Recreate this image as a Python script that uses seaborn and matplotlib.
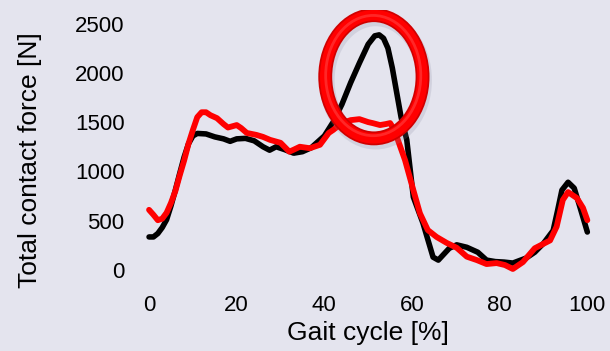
#!/usr/bin/env python
# -*- coding: UTF-8 -*-

# Import Modules
import pandas as pd
import seaborn as sns
import matplotlib
matplotlib.use("Agg")
import matplotlib.pyplot as plt
from matplotlib.patches import Ellipse


# Data
black_x = [0, 1, 2, 3, 4, 5, 6, 7, 8, 9, 10, 11, 13, 15, 17, 18.5, 20, 22, 24,
           26, 27.5, 29, 31, 33, 35, 37, 38.5, 40, 42, 44, 46, 48, 50, 51.5,
           52.5, 53.5, 54.5, 55.5, 56.5, 57.5, 58.8, 60.3, 62.5, 64.8, 66,
           68.5, 70.2, 72.5, 75, 77, 79, 81, 83, 86, 88, 90, 92.2, 93.2, 94.2,
           95.6, 97, 98.3, 100]
black_y = [335, 335, 370, 430, 510, 650, 810, 980, 1145, 1280, 1360, 1385,
           1380, 1350, 1330, 1305, 1330, 1335, 1310, 1250, 1215, 1250, 1220,
           1185, 1200, 1240, 1300, 1360, 1500, 1680, 1900, 2100, 2290, 2375,
           2385, 2350, 2250, 2050, 1800, 1550, 1320, 740, 475, 130, 100, 220,
           255, 230, 180, 100, 85, 80, 70, 120, 180, 270, 400, 600, 810, 890,
           830, 640, 385]

red_x = [0, 1, 2, 3, 4, 5, 6, 7, 8, 9, 10, 11, 12, 13, 14, 15.5, 17, 18, 20,
         21, 22.3, 24.5, 26, 27.6, 30, 32, 33, 34.4, 36.7, 39, 41, 42, 44, 46,
         48, 50, 51, 52.7, 54, 55, 56, 57, 58.4, 60.3, 61.8, 63.6, 65.6,
         67.9, 70.2, 72.5, 74.8, 77, 79.3, 81.2, 83, 85.3, 88, 91.5, 93,
         94.4, 95.6, 97.6, 99, 100]
red_y = [610, 560, 505, 520, 580, 680, 800, 960, 1110, 1280, 1420, 1550, 1600,
         1600, 1570, 1540, 1480, 1445, 1470, 1440, 1390, 1370, 1350, 1320,
         1290, 1200, 1220, 1250, 1235, 1270, 1390, 1420, 1490, 1520, 1530,
         1500, 1490, 1470, 1480, 1490, 1420, 1290, 1115, 810, 575, 405, 335,
         275, 225, 135, 100, 60, 70, 50, 10, 80, 220, 300, 440, 710, 790, 730,
         630, 505]

x_ticks = [0, 20, 40, 60, 80, 100]
y_ticks = [0, 500, 1000, 1500, 2000, 2500]

# Highlighted region (ellipse) around the peak
ring_center = (51.3, 1960)
ring_size = (22.2, 1250)


BG = "#e4e4ee"

sns.set_style("white", {"axes.facecolor": BG, "figure.facecolor": BG,
                        "text.color": "black", "axes.labelcolor": "black",
                        "xtick.color": "black", "ytick.color": "black"})
plt.rcParams["font.family"] = ["Liberation Sans", "DejaVu Sans"]

df_black = pd.DataFrame({"x": black_x, "y": black_y})
df_red = pd.DataFrame({"x": red_x, "y": red_y})

fig = plt.figure(figsize=(6.1, 3.51), dpi=100)
ax = fig.add_axes([0.2156, 0.1803, 0.776, 0.792])

sns.lineplot(data=df_black, x="x", y="y", color="black", lw=4, ax=ax,
             solid_capstyle="round", solid_joinstyle="round")
sns.lineplot(data=df_red, x="x", y="y", color="#ff0000", lw=4.2, ax=ax,
             solid_capstyle="round", solid_joinstyle="round")

# Shaded ring
ax.add_patch(Ellipse((ring_center[0] + 0.4, ring_center[1] - 35), *ring_size,
                     fill=False, ec="#8888a0", lw=11, alpha=0.2, zorder=4))
ax.add_patch(Ellipse(ring_center, *ring_size, fill=False, ec="#d00000",
                     lw=10, zorder=5))
ax.add_patch(Ellipse(ring_center, *ring_size, fill=False, ec="#ff0000",
                     lw=7.5, zorder=6))
ax.add_patch(Ellipse((ring_center[0] - 0.15, ring_center[1] + 12),
                     ring_size[0] - 0.5, ring_size[1] - 30, fill=False,
                     ec="#ff3838", lw=2, alpha=0.7, zorder=7))

ax.set_xlim(-4, 104)
ax.set_ylim(-180, 2640)
ax.set_xticks(x_ticks)
ax.set_yticks(y_ticks)
ax.tick_params(length=0, labelsize=16, pad=5, colors="black")
for s in ax.spines.values():
    s.set_visible(False)

ax.set_xlabel("Gait cycle [%]", fontsize=19, color="black")
ax.set_ylabel("Total contact force [N]", fontsize=19, color="black")
ax.xaxis.set_label_coords(0.5, -0.12)
ax.yaxis.set_label_coords(-0.19, 0.46)

fig.savefig("out.png", dpi=100, facecolor=BG)
